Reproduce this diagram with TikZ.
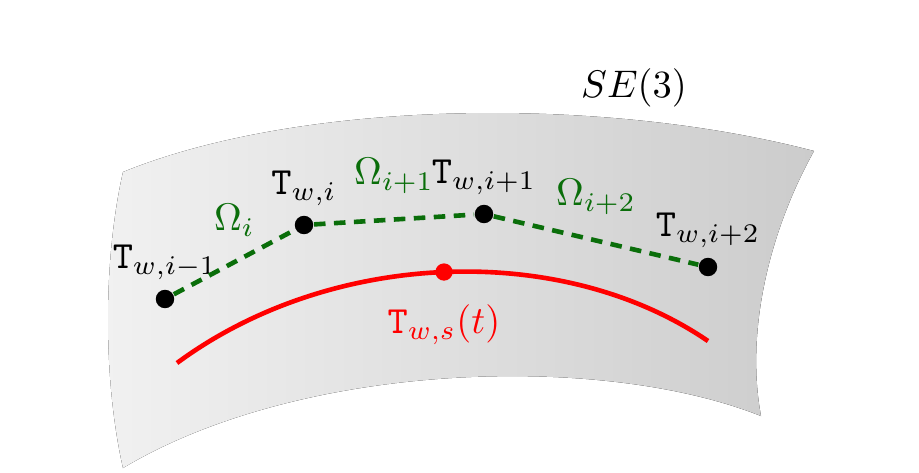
\documentclass[tikz,border=0pt]{standalone}
\definecolor{manifoldleft}{RGB}{241,241,241}
\definecolor{manifoldright}{RGB}{204,204,204}
\definecolor{omegagreen}{RGB}{10,110,10}
\usetikzlibrary{positioning,calc}
\usepackage{amsmath,amssymb}

\begin{document}
\begin{tikzpicture}[x=0.26pt, y=-0.26pt,
  posedot/.style={circle, fill=black, inner sep=0pt, minimum size=4.8pt},
  splinedot/.style={circle, fill=red, inner sep=0pt, minimum size=4.5pt},
  relpose/.style={draw=omegagreen, line width=1.2pt, dash pattern=on 3pt off 2.2pt},
  spline/.style={draw=red, line width=1.2pt}]
  \useasboundingbox (0,0) rectangle (919,472);
  % SE(3) surface
  \fill[left color=manifoldleft, right color=manifoldright]
    (123,172) .. controls (300,100) and (600,95) .. (814,151)
    .. controls (770,230) and (745,330) .. (761,416)
    .. controls (600,352) and (300,362) .. (123,468)
    .. controls (103,380) and (103,260) .. cycle;
  \node (se3) at (634,88) {$SE(3)$};
  % poses
  \foreach \n/\x/\y/\sub in {0/165/299/{i-1}, 1/304/225/i, 2/484/214/{i+1}, 3/708/267/{i+2}}{
    \node[posedot] (T\n) at (\x,\y) {};
    \node[above=-1pt of T\n] (LT\n) {$\mathtt{T}_{w,\sub}$};
  }
  \foreach \a/\b/\sub in {0/1/i, 1/2/{i+1}, 2/3/{i+2}}{
    \draw[relpose] (T\a) -- (T\b) node[midway, above=2.8pt, text=omegagreen] (O\b) {$\Omega_{\sub}$};
  }
  % continuous trajectory
  \coordinate (s0) at (177,363);
  \coordinate (s1) at (708,341);
  \node[splinedot] (Ts) at (444,272) {};
  \draw[spline] (s0) .. controls +(76.5,-56.5) and +(-95,4) .. (Ts.center)
    .. controls +(95,-4) and +(-74,-50.5) .. (s1);
  \node[text=red, below=2.5pt of Ts] (LTs) {$\mathtt{T}_{w,s}(t)$};
\end{tikzpicture}
\end{document}
